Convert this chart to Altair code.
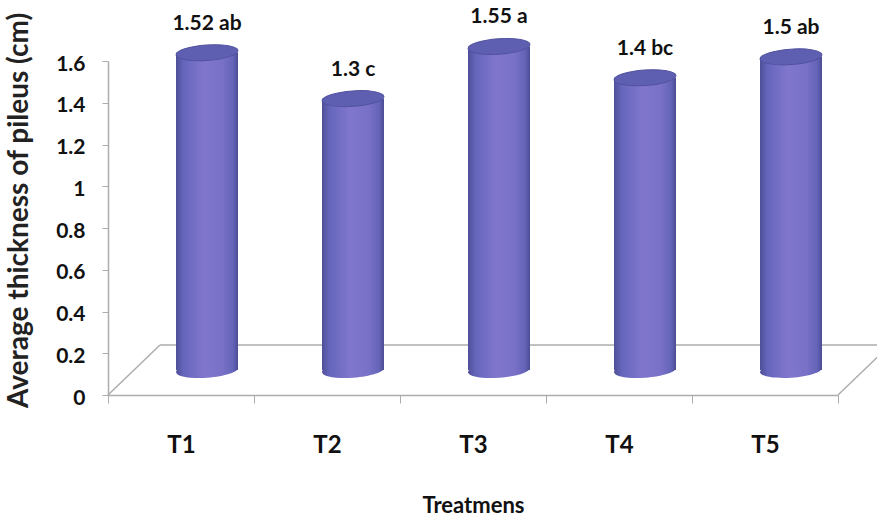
import altair as alt
import pandas as pd

# Average pileus thickness per treatment, with the letter groups from the mean separation
treatments = ["T1", "T2", "T3", "T4", "T5"]
thickness = [1.52, 1.3, 1.55, 1.4, 1.5]
groups = ["ab", "c", "a", "bc", "ab"]
y_ticks = [0, 0.2, 0.4, 0.6, 0.8, 1.0, 1.2, 1.4, 1.6]

df = pd.DataFrame({"Treatment": treatments, "Thickness": thickness, "Group": groups})
df["Label"] = [f"{v:g} {g}" for v, g in zip(thickness, groups)]

# plot area and the pseudo-3D floor depth
W, H = 730, 334
DX, DY = 52, -50          # offset of the back edge of the floor
CX, CY = DX // 2, DY // 2  # cylinders stand half way back on the floor
BAR_W = 62

FONT = "Lato"
GREY = "#adadad"
ELLIPSE = "M -1 0 A 1 0.25 0 1 1 1 0 A 1 0.25 0 1 1 -1 0 Z"

body_fill = alt.Gradient(
    gradient="linear", x1=0, x2=1, y1=0, y2=0,
    stops=[
        alt.GradientStop(offset=0.0, color="#4f4f98"),
        alt.GradientStop(offset=0.12, color="#6565bc"),
        alt.GradientStop(offset=0.45, color="#8077cd"),
        alt.GradientStop(offset=0.75, color="#7871c7"),
        alt.GradientStop(offset=0.92, color="#6464b8"),
        alt.GradientStop(offset=1.0, color="#4c4c94"),
    ],
)

x_scale = alt.Scale(domain=treatments, paddingInner=0, paddingOuter=0)
y_scale = alt.Scale(domain=[0, 1.6], nice=False, zero=True)

x_axis = alt.Axis(
    title="Treatmens", titleFont=FONT, titleFontSize=22, titleFontWeight="bold",
    titleColor="#111111", titleY=110, titleBaseline="middle",
    labelFont=FONT, labelFontSize=24, labelFontWeight="bold", labelColor="#111111",
    labelAngle=0, labelPadding=30, tickBand="extent", tickSize=8,
    tickColor=GREY, domainColor=GREY, domainWidth=1.5, grid=False,
)
y_axis = alt.Axis(
    title="Average thickness of pileus (cm)", titleFont=FONT, titleFontSize=28,
    titleFontWeight="bold", titleColor="#222222", titleAngle=270,
    titleX=-89, titleY=149, titleAlign="center", titleBaseline="middle",
    values=y_ticks, format="~g",
    labelFont=FONT, labelFontSize=21, labelFontWeight="bold", labelColor="#111111",
    labelPadding=17, labelOffset=3, tickSize=6, tickColor=GREY,
    domainColor=GREY, domainWidth=1.5, grid=False,
)

X = alt.X("Treatment:N", scale=x_scale, axis=x_axis)
Y = alt.Y("Thickness:Q", scale=y_scale, axis=y_axis)
Y0 = alt.Y(datum=0, type="quantitative", scale=y_scale, axis=y_axis)

floor_src = alt.Chart(pd.DataFrame({"level": [0]}))

# back edge of the floor and its two side edges
floor_back = floor_src.mark_rule(color=GREY, strokeWidth=1.5, yOffset=DY).encode(
    x=alt.value(DX), x2=alt.value(W + DX), y=Y0
)
floor_left = floor_src.mark_rule(color=GREY, strokeWidth=1.5, y2Offset=DY).encode(
    x=alt.value(0), x2=alt.value(DX), y=Y0, y2=alt.Y2(datum=0)
)
floor_right = floor_src.mark_rule(color=GREY, strokeWidth=1.5, y2Offset=DY).encode(
    x=alt.value(W), x2=alt.value(W + DX), y=Y0, y2=alt.Y2(datum=0)
)

base = alt.Chart(df)

# rounded foot of each cylinder
bottoms = base.mark_point(
    shape=ELLIPSE, size=BAR_W ** 2, filled=True, opacity=1, color=body_fill,
    xOffset=CX, yOffset=CY, angle=356,
).encode(x=X, y=Y0)

bodies = base.mark_bar(
    size=BAR_W, color=body_fill, xOffset=CX, yOffset=CY, y2Offset=CY
).encode(x=X, y=Y, y2=alt.Y2(datum=0))

tops = base.mark_point(
    shape=ELLIPSE, size=BAR_W ** 2, filled=True, opacity=1, fill="#5f5fb2",
    stroke="#52529f", strokeWidth=1, xOffset=CX, yOffset=CY, angle=356,
).encode(x=X, y=Y)

labels = base.mark_text(
    font=FONT, fontSize=21, fontWeight="bold", color="#111111",
    xOffset=CX, yOffset=CY - 29, baseline="middle",
).encode(x=X, y=Y, text="Label:N")

chart = (
    alt.layer(floor_back, floor_left, floor_right, bottoms, bodies, tops, labels)
    .properties(
        width=W, height=H,
        autosize=alt.AutoSizeParams(type="none"),
        padding={"left": 108, "top": 61, "right": 39, "bottom": 122},
        background="white",
    )
    .configure_view(stroke=None)
)

chart.save("out.html", embed_options={"renderer": "svg", "actions": False})
